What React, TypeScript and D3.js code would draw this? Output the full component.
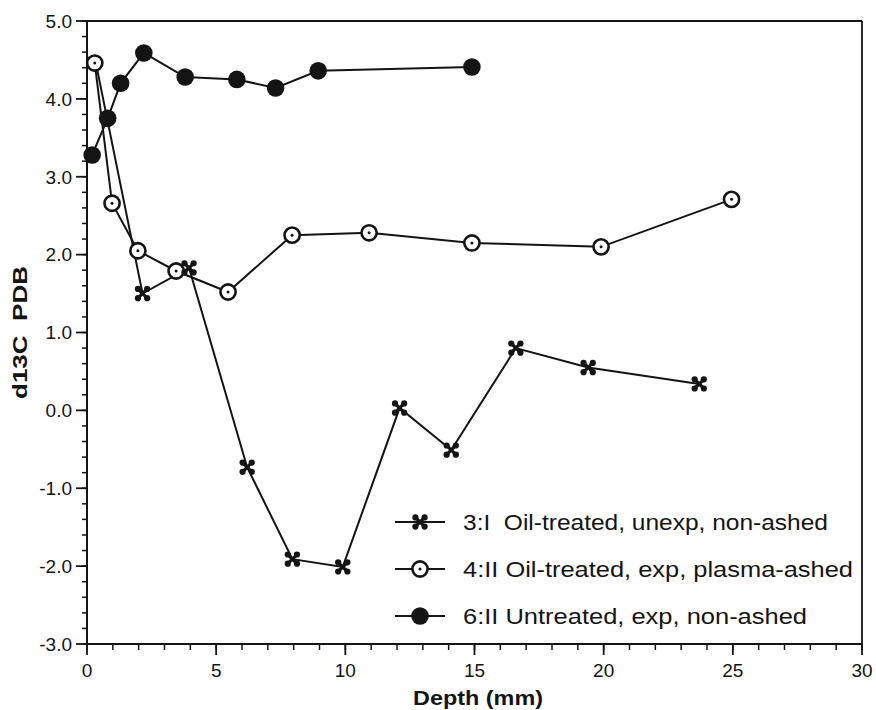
import React from "react";
import * as d3 from "d3";

const xTicksMajor = [0, 5, 10, 15, 20, 25, 30];
const yTicksMajor = [-3, -2, -1, 0, 1, 2, 3, 4, 5];
const yTickLabels = ["-3.0", "-2.0", "-1.0", "0.0", "1.0", "2.0", "3.0", "4.0", "5.0"];

const s3Depth = [0.35, 2.15, 3.95, 6.2, 7.95, 9.9, 12.1, 14.1, 16.6, 19.4, 23.7];
const s3Value = [4.45, 1.5, 1.83, -0.73, -1.91, -2.01, 0.03, -0.51, 0.8, 0.55, 0.34];

const s4Depth = [0.3, 0.97, 1.97, 3.45, 5.46, 7.94, 10.92, 14.9, 19.9, 24.95];
const s4Value = [4.46, 2.66, 2.05, 1.79, 1.52, 2.25, 2.28, 2.15, 2.1, 2.71];

const s6Depth = [0.2, 0.8, 1.3, 2.2, 3.8, 5.8, 7.3, 8.95, 14.9];
const s6Value = [3.28, 3.75, 4.2, 4.59, 4.28, 4.25, 4.14, 4.36, 4.41];

const legendLabels = [
  "3:I  Oil-treated, unexp, non-ashed",
  "4:II Oil-treated, exp, plasma-ashed",
  "6:II Untreated, exp, non-ashed",
];

const INK = "#141414";

function Cross({ x, y }: { x: number; y: number }) {
  const d = 4.6;
  return (
    <g transform={`translate(${x},${y})`}>
      <line x1={-d} y1={-d} x2={d} y2={d} stroke={INK} strokeWidth={3.2} />
      <line x1={-d} y1={d} x2={d} y2={-d} stroke={INK} strokeWidth={3.2} />
      <circle cx={-d} cy={-d} r={3.1} fill={INK} />
      <circle cx={d} cy={-d} r={3.1} fill={INK} />
      <circle cx={-d} cy={d} r={3.1} fill={INK} />
      <circle cx={d} cy={d} r={3.1} fill={INK} />
    </g>
  );
}

function OpenDot({ x, y }: { x: number; y: number }) {
  return (
    <g transform={`translate(${x},${y})`}>
      <circle r={7.6} fill="#fff" stroke={INK} strokeWidth={2.6} />
      <circle r={1.5} fill={INK} />
    </g>
  );
}

function FilledDot({ x, y }: { x: number; y: number }) {
  return <circle cx={x} cy={y} r={8.8} fill={INK} />;
}

export default function App() {
  const W = 876;
  const H = 710;
  const left = 87;
  const right = 862;
  const top = 21;
  const bottom = 644;
  const x = d3.scaleLinear().domain([0, 30]).range([left, right]);
  const y = d3.scaleLinear().domain([-3, 5]).range([bottom, top]);

  const line = d3
    .line<[number, number]>()
    .x((d) => x(d[0]))
    .y((d) => y(d[1]));

  const s3 = s3Depth.map((d, i) => [d, s3Value[i]] as [number, number]);
  const s4 = s4Depth.map((d, i) => [d, s4Value[i]] as [number, number]);
  const s6 = s6Depth.map((d, i) => [d, s6Value[i]] as [number, number]);

  const xMinor = d3.range(0, 31, 1);
  const yMinor = d3.range(-3, 5.001, 0.2);

  const font = "'Liberation Sans', Arial, Helvetica, sans-serif";

  const legendX = 395;
  const legendRows = [522, 569, 616];
  const legendWidths = [365, 390, 344];

  return (
    <svg
      width={W}
      height={H}
      style={{ position: "absolute", left: 0, top: 0, display: "block", background: "#fff" }}
      fontFamily={font}
    >
      <rect x={0} y={0} width={W} height={H} fill="#fff" />
      {/* frame */}
      <line x1={left} y1={top} x2={right} y2={top} stroke={INK} strokeWidth={1.8} />
      <line x1={right} y1={top} x2={right} y2={bottom} stroke={INK} strokeWidth={1.8} />
      <line x1={left} y1={top} x2={left} y2={bottom} stroke={INK} strokeWidth={2} />
      <line x1={left} y1={bottom} x2={right} y2={bottom} stroke={INK} strokeWidth={2} />

      {/* y ticks */}
      {yMinor.map((v, i) => (
        <line key={"ym" + i} x1={left - 5} x2={left} y1={y(v)} y2={y(v)} stroke={INK} strokeWidth={1.5} />
      ))}
      {yTicksMajor.map((v, i) => (
        <g key={"yM" + i}>
          <line x1={left - 11} x2={left} y1={y(v)} y2={y(v)} stroke={INK} strokeWidth={1.8} />
          <text x={left - 15} y={y(v)} dy="0.36em" textAnchor="end" fontSize={19} fill={INK}>
            {yTickLabels[i]}
          </text>
        </g>
      ))}

      {/* x ticks */}
      {xMinor.map((v, i) => (
        <line key={"xm" + i} x1={x(v)} x2={x(v)} y1={bottom} y2={bottom + 6} stroke={INK} strokeWidth={1.5} />
      ))}
      {xTicksMajor.map((v, i) => (
        <g key={"xM" + i}>
          <line x1={x(v)} x2={x(v)} y1={bottom} y2={bottom + 11} stroke={INK} strokeWidth={1.8} />
          <text x={x(v)} y={677} textAnchor="middle" fontSize={19} fill={INK}>
            {String(v)}
          </text>
        </g>
      ))}

      {/* axis titles */}
      <text x={478} y={705} textAnchor="middle" fontSize={21} fontWeight="bold" fill={INK} textLength={130} lengthAdjust="spacingAndGlyphs">
        Depth (mm)
      </text>
      <text
        transform={`translate(27,${(top + bottom) / 2}) rotate(-90)`}
        textAnchor="middle"
        fontSize={21}
        fontWeight="bold"
        fill={INK}
        style={{ whiteSpace: "pre" }}
        textLength={133}
        lengthAdjust="spacingAndGlyphs"
      >
        {"d13C  PDB"}
      </text>

      {/* series lines */}
      <path d={line(s3) || ""} fill="none" stroke={INK} strokeWidth={2} />
      <path d={line(s4) || ""} fill="none" stroke={INK} strokeWidth={2} />
      <path d={line(s6) || ""} fill="none" stroke={INK} strokeWidth={2} />

      {/* markers */}
      {s4.map((d, i) => (
        <OpenDot key={"o" + i} x={x(d[0])} y={y(d[1])} />
      ))}
      {s3.slice(1).map((d, i) => (
        <Cross key={"c" + i} x={x(d[0])} y={y(d[1])} />
      ))}
      {s6.map((d, i) => (
        <FilledDot key={"f" + i} x={x(d[0])} y={y(d[1])} />
      ))}

      {/* legend */}
      {legendLabels.map((lab, i) => {
        const cy = legendRows[i];
        return (
          <g key={"lg" + i}>
            <line x1={legendX} x2={legendX + 50} y1={cy} y2={cy} stroke={INK} strokeWidth={2} />
            {i === 0 && <Cross x={legendX + 25} y={cy} />}
            {i === 1 && <OpenDot x={legendX + 25} y={cy} />}
            {i === 2 && <FilledDot x={legendX + 25} y={cy} />}
            <text
              x={463}
              y={cy + 8}
              fontSize={22}
              fill={INK}
              style={{ whiteSpace: "pre" }}
              textLength={legendWidths[i]}
              lengthAdjust="spacingAndGlyphs"
            >
              {lab}
            </text>
          </g>
        );
      })}
    </svg>
  );
}
